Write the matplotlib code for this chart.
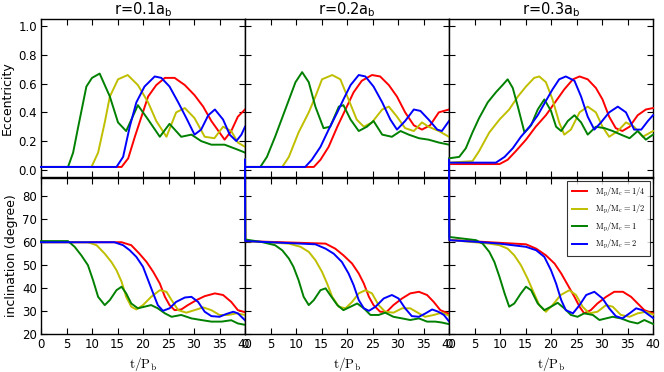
import matplotlib
matplotlib.use("Agg")
import matplotlib.pyplot as plt

# ---- data (t in units of P_b) ----
# r = 0.1 a_b, eccentricity
e1_red_t = [0, 15.8, 17.1, 18.4, 19.7, 21, 22.6, 24.3, 26.2, 28.2, 30.1, 31.8, 33.4, 35, 36, 37.3, 38.6, 40]
e1_red = [0.02, 0.02, 0.08, 0.23, 0.37, 0.51, 0.59, 0.64, 0.64, 0.59, 0.52, 0.44, 0.34, 0.26, 0.21, 0.27, 0.37, 0.42]
e1_yel_t = [0, 9.9, 11.2, 12.5, 13.5, 15.1, 17, 19, 21, 22.6, 24.6, 26.5, 28.2, 30.1, 32.1, 34, 35.7, 37.3, 38.6, 40]
e1_yel = [0.02, 0.02, 0.12, 0.33, 0.51, 0.63, 0.66, 0.59, 0.47, 0.34, 0.23, 0.40, 0.43, 0.36, 0.23, 0.22, 0.30, 0.27, 0.19, 0.16]
e1_grn_t = [0, 5.3, 6.3, 7.3, 8.9, 10, 11.5, 13.5, 15.1, 16.7, 19, 21, 23.3, 25.2, 27.5, 29.5, 31.4, 33.4, 36, 38.6, 40]
e1_grn = [0.02, 0.02, 0.12, 0.30, 0.58, 0.64, 0.67, 0.51, 0.33, 0.27, 0.45, 0.35, 0.23, 0.32, 0.23, 0.245, 0.2, 0.175, 0.175, 0.14, 0.12]
e1_blu_t = [0, 14.8, 16.1, 17.4, 18.7, 20.3, 22.3, 23.6, 25.2, 26.9, 28.5, 30.1, 31.4, 32.8, 34.1, 35.7, 37, 38.3, 39.3, 40]
e1_blu = [0.02, 0.02, 0.09, 0.30, 0.47, 0.58, 0.65, 0.64, 0.58, 0.47, 0.36, 0.245, 0.28, 0.38, 0.42, 0.35, 0.245, 0.20, 0.245, 0.30]

# r = 0.2 a_b, eccentricity
e2_red_t = [0, 13.5, 14.8, 16.4, 18.1, 19.7, 21.3, 22.9, 24.9, 26.5, 28.2, 29.8, 31.4, 33.1, 34.7, 36.3, 38, 40]
e2_red = [0.02, 0.02, 0.07, 0.16, 0.30, 0.42, 0.54, 0.62, 0.66, 0.65, 0.59, 0.51, 0.40, 0.31, 0.28, 0.31, 0.40, 0.42]
e2_yel_t = [0, 7.3, 8.6, 10.5, 12.5, 13.8, 15.1, 17.1, 18.7, 20.3, 21.9, 23.3, 24.9, 26.9, 28.2, 29.8, 31.4, 33.1, 34.7, 36, 38, 40]
e2_yel = [0.02, 0.02, 0.09, 0.26, 0.40, 0.51, 0.63, 0.66, 0.63, 0.49, 0.35, 0.30, 0.33, 0.42, 0.44, 0.37, 0.29, 0.27, 0.33, 0.30, 0.27, 0.23]
e2_grn_t = [0, 3, 4.3, 5.9, 7.9, 9.9, 11.2, 12.5, 13.8, 15.4, 16.7, 18.4, 19.3, 20.7, 22.3, 23.9, 25.2, 26.9, 28.8, 30.5, 32.1, 34.1, 36, 38, 40]
e2_grn = [0.02, 0.02, 0.09, 0.23, 0.42, 0.61, 0.68, 0.61, 0.44, 0.29, 0.30, 0.44, 0.45, 0.35, 0.27, 0.30, 0.34, 0.245, 0.23, 0.27, 0.245, 0.22, 0.21, 0.19, 0.175]
e2_blu_t = [0, 11.8, 13.1, 14.8, 16.4, 18.1, 19.3, 20.7, 22.3, 23.6, 25.2, 26.9, 28.5, 29.8, 31.4, 33.1, 34.4, 36, 37.7, 38.6, 40]
e2_blu = [0.02, 0.02, 0.07, 0.16, 0.28, 0.40, 0.49, 0.59, 0.66, 0.65, 0.58, 0.47, 0.35, 0.28, 0.34, 0.42, 0.41, 0.35, 0.28, 0.27, 0.34]

# r = 0.3 a_b, eccentricity
e3_red_t = [0, 9.9, 11.5, 13.1, 15.1, 17, 19, 21, 22.6, 24.3, 25.6, 27.2, 28.8, 30.1, 31.4, 32.7, 34, 35.4, 37, 38.6, 40]
e3_red = [0.04, 0.04, 0.07, 0.13, 0.21, 0.30, 0.38, 0.48, 0.56, 0.63, 0.65, 0.63, 0.57, 0.49, 0.37, 0.29, 0.27, 0.30, 0.38, 0.42, 0.43]
e3_yel_t = [0, 4.6, 5.9, 7.9, 9.9, 11.8, 13.5, 15.1, 16.7, 17.7, 19, 20.3, 21.6, 22.6, 23.9, 25.6, 27.2, 28.8, 30.1, 31.4, 33.1, 34.7, 36.3, 38, 40]
e3_yel = [0.05, 0.06, 0.13, 0.26, 0.35, 0.42, 0.51, 0.58, 0.64, 0.65, 0.61, 0.49, 0.33, 0.245, 0.28, 0.40, 0.44, 0.40, 0.30, 0.23, 0.27, 0.33, 0.30, 0.23, 0.27]
e3_grn_t = [0, 2, 3.3, 4.6, 5.9, 7.6, 9.2, 10.5, 11.5, 12.5, 13.5, 14.8, 16.1, 17.4, 18.7, 20, 21, 22, 23.3, 24.6, 25.9, 27.2, 28.8, 30.5, 32.1, 33.7, 35.4, 37, 38.6, 40]
e3_grn = [0.08, 0.09, 0.15, 0.26, 0.36, 0.47, 0.54, 0.59, 0.63, 0.57, 0.44, 0.26, 0.31, 0.42, 0.49, 0.41, 0.30, 0.27, 0.34, 0.38, 0.33, 0.245, 0.30, 0.29, 0.27, 0.245, 0.22, 0.27, 0.21, 0.245]
e3_blu_t = [0, 9.2, 10.9, 12.5, 14.1, 15.8, 17.4, 19, 20.3, 21.6, 22.9, 24.6, 25.9, 27.2, 28.5, 29.8, 31.4, 33.1, 34.7, 36.3, 37.7, 39, 40]
e3_blu = [0.05, 0.05, 0.09, 0.15, 0.23, 0.30, 0.38, 0.48, 0.56, 0.63, 0.65, 0.62, 0.51, 0.37, 0.28, 0.33, 0.40, 0.44, 0.40, 0.28, 0.28, 0.34, 0.38]

# r = 0.1 a_b, inclination (degree)
i1_red_t = [0, 15.8, 17.7, 19.3, 20.7, 22, 23.3, 24.3, 25.2, 26.2, 27.5, 28.8, 30.5, 32.1, 34.1, 35.7, 37.3, 38.6, 40]
i1_red = [60, 60, 58.7, 55, 51.4, 47.1, 42, 36.2, 32.6, 30.4, 30.7, 32.6, 34.8, 36.5, 37.7, 37, 34, 30.4, 29.5]
i1_yel_t = [0, 9.2, 10.9, 12.5, 13.8, 14.8, 15.8, 16.7, 17.7, 18.7, 20, 21.6, 23.3, 24.6, 25.6, 26.9, 28.5, 30.1, 31.8, 33.4, 35, 36.7, 38.3, 40]
i1_yel = [60, 60, 58.7, 55, 51.4, 47.8, 42.8, 36.2, 31.9, 30.7, 32.6, 36.2, 39.1, 38.4, 34.8, 30.4, 29.3, 30.4, 31.6, 30.4, 28.3, 28.3, 29, 28.3]
i1_grn_t = [0, 5.3, 6.6, 7.9, 9.2, 10.2, 11.2, 12.5, 13.5, 14.8, 15.8, 16.7, 17.7, 19, 20.3, 21.6, 22.9, 24.3, 25.6, 27.5, 29.5, 31.4, 33.4, 35.4, 37.3, 38.6, 40]
i1_grn = [60.5, 60.5, 58, 54.3, 50, 43.5, 36.2, 32.6, 34.8, 39.1, 40.6, 37.7, 33.3, 31.2, 31.9, 32.6, 31.2, 29, 27.5, 28.3, 26.8, 26.1, 25.4, 25.4, 26, 24.6, 24]
i1_blu_t = [0, 14.4, 16.1, 17.4, 18.7, 20, 21, 22, 22.9, 23.9, 25.2, 26.5, 28.2, 29.5, 30.8, 32.1, 33.4, 35, 36.3, 37.7, 38.6, 40]
i1_blu = [60, 60, 58.7, 56.5, 53.6, 49.3, 43.5, 37.7, 32.6, 30.1, 31.2, 34, 35.9, 36.2, 34, 29.7, 27.8, 27.5, 28.7, 29.7, 29, 26]

# r = 0.2 a_b, inclination (degree)
i2_red_t = [0, 0.05, 15.8, 17.7, 19.3, 21, 22.3, 23.3, 24.3, 25.2, 26.5, 27.8, 29.1, 30.8, 32.4, 34.1, 35.7, 37, 38.3, 40]
i2_red = [96, 60.5, 59.4, 57.2, 54.3, 50.7, 46.4, 42, 36.2, 32.6, 29.7, 29.7, 32.6, 35.5, 37.7, 38.4, 37, 34, 30.4, 28.8]
i2_yel_t = [0, 0.05, 8.6, 10.9, 12.5, 13.8, 15.1, 16.1, 17.1, 18.4, 19.7, 21, 22.3, 23.6, 24.9, 26.2, 27.5, 29.1, 30.8, 32.4, 34.1, 35.3, 37, 38.6, 40]
i2_yel = [96, 60.5, 59.4, 58, 55.8, 52.2, 47.1, 42, 36.2, 31.9, 31.2, 34, 37.7, 39.1, 37.7, 32.6, 29.7, 29.3, 31.2, 31.2, 29, 27.5, 28.3, 29.3, 28]
i2_grn_t = [0, 0.05, 3.3, 5.9, 7.3, 8.6, 9.5, 10.5, 11.5, 12.5, 13.5, 14.8, 15.8, 16.7, 18.1, 19.3, 20.7, 22, 23.3, 24.6, 26.2, 27.5, 29.1, 30.8, 32.4, 34.1, 35.7, 37.3, 38.6, 40]
i2_grn = [96, 61.2, 60.1, 58.7, 56.5, 52.9, 49.3, 43.5, 36.2, 32.6, 34.8, 39.1, 39.9, 37, 32.6, 30.4, 31.9, 33.3, 31.2, 28.3, 28.3, 29.3, 27.5, 26.8, 26.1, 26.8, 25.4, 25.4, 25, 24.3]
i2_blu_t = [0, 0.05, 13.8, 15.8, 17.4, 19, 20.3, 21.3, 22.3, 23.3, 24.3, 25.6, 27.2, 28.8, 30.1, 31.4, 32.7, 34.1, 35.4, 36.7, 37.9, 39, 40]
i2_blu = [96, 60.5, 59.1, 57.2, 55, 51.4, 46.4, 41.3, 34.8, 31.2, 30.1, 31.9, 35.5, 37, 35.5, 31.2, 27.8, 27.5, 29, 30.7, 29.7, 28.3, 25.5]

# r = 0.3 a_b, inclination (degree)
i3_red_t = [0, 0.05, 15.1, 17.1, 19, 20.7, 22, 23.3, 24.6, 25.6, 26.5, 27.8, 29.1, 30.8, 32.4, 34.1, 35.7, 37, 38.3, 40]
i3_red = [96, 61, 59.1, 57.2, 54.3, 50.7, 46.4, 41.3, 36.2, 31.9, 29, 30.4, 33.3, 36.2, 38.4, 38.4, 36.2, 33.3, 30.4, 29]
i3_yel_t = [0, 0.05, 7.9, 9.9, 11.5, 12.8, 14.1, 15.4, 16.4, 17.7, 19, 20.3, 21.9, 23.6, 24.9, 26.2, 27.5, 29.1, 30.8, 32.1, 33.7, 35.4, 37, 38.6, 40]
i3_yel = [96, 61, 59.4, 58.7, 57.2, 54.3, 50, 44.2, 39.1, 32.6, 29.7, 32.6, 37, 39.1, 37, 31.9, 29, 29.7, 32.6, 31.9, 28.3, 27.5, 29, 29.7, 28.5]
i3_grn_t = [0, 0.05, 5.3, 6.6, 7.9, 8.9, 9.9, 10.9, 11.8, 12.8, 14.1, 15.1, 16.1, 17.4, 18.7, 20, 21.3, 22.6, 23.9, 25.2, 26.5, 28.2, 29.5, 30.8, 32.1, 33.7, 35.4, 37, 38.3, 40]
i3_grn = [96, 62.3, 60.9, 59.4, 55.8, 51.4, 44.9, 37.7, 31.9, 33.3, 37.7, 40.6, 39.1, 33.3, 30.4, 31.9, 33.6, 31.2, 28.3, 27.5, 29, 28.3, 26.1, 26.8, 27.5, 26.8, 25.4, 24.6, 26.1, 24.4]
i3_blu_t = [0, 0.05, 5.9, 9.9, 12.5, 15.1, 17.1, 18.7, 20, 21, 22, 22.9, 24.3, 25.6, 26.9, 28.5, 30.1, 31.4, 32.7, 34, 35.4, 36.7, 37.9, 40]
i3_blu = [96, 60.9, 60.1, 59.4, 58.7, 58, 56.5, 53.6, 47.8, 42, 34.8, 30.4, 29, 32.6, 37, 38.4, 35.5, 31.2, 27.8, 26.8, 29, 31.2, 30.4, 27]

titles = [r"r=0.1a$_\mathrm{b}$", r"r=0.2a$_\mathrm{b}$", r"r=0.3a$_\mathrm{b}$"]
labels = [r"$\mathrm{M_p/M_c=1/4}$", r"$\mathrm{M_p/M_c=1/2}$",
          r"$\mathrm{M_p/M_c=1}$", r"$\mathrm{M_p/M_c=2}$"]
colors = ["r", "y", "g", "b"]

ecc = [
    [(e1_red_t, e1_red), (e1_yel_t, e1_yel), (e1_grn_t, e1_grn), (e1_blu_t, e1_blu)],
    [(e2_red_t, e2_red), (e2_yel_t, e2_yel), (e2_grn_t, e2_grn), (e2_blu_t, e2_blu)],
    [(e3_red_t, e3_red), (e3_yel_t, e3_yel), (e3_grn_t, e3_grn), (e3_blu_t, e3_blu)],
]
inc = [
    [(i1_red_t, i1_red), (i1_yel_t, i1_yel), (i1_grn_t, i1_grn), (i1_blu_t, i1_blu)],
    [(i2_red_t, i2_red), (i2_yel_t, i2_yel), (i2_grn_t, i2_grn), (i2_blu_t, i2_blu)],
    [(i3_red_t, i3_red), (i3_yel_t, i3_yel), (i3_grn_t, i3_grn), (i3_blu_t, i3_blu)],
]

plt.rcParams['font.size'] = 8.5
plt.rcParams['xtick.direction'] = 'in'
plt.rcParams['ytick.direction'] = 'in'
plt.rcParams['xtick.top'] = True
plt.rcParams['ytick.right'] = True
plt.rcParams['xtick.major.size'] = 4.5
plt.rcParams['ytick.major.size'] = 4.5
plt.rcParams['xtick.major.pad'] = 3
plt.rcParams['ytick.major.pad'] = 3
plt.rcParams['axes.linewidth'] = 1.0

fig = plt.figure(figsize=(6.64, 3.72), dpi=100)

W, H = 664.0, 372.0
lefts = [41, 245, 449]
width = 204
top_box = (19, 177)
bot_box = (178, 334)

def box(x0, y0, y1):
    return [x0 / W, 1 - y1 / H, width / W, (y1 - y0) / H]

top_axes = [fig.add_axes(box(x, *top_box)) for x in lefts]
bot_axes = [fig.add_axes(box(x, *bot_box)) for x in lefts]

for k, ax in enumerate(top_axes):
    for (t, y), c in zip(ecc[k], colors):
        ax.plot(t, y, color=c, lw=1.4, clip_on=False, zorder=3)
    ax.set_xlim(0, 40)
    ax.set_ylim(-0.05, 1.05)
    ax.set_xticks(range(0, 41, 5))
    ax.set_yticks([0.0, 0.2, 0.4, 0.6, 0.8, 1.0])
    ax.set_xticklabels([])
    if k > 0:
        ax.set_yticklabels([])
    ax.set_title(titles[k], fontsize=10.5, pad=2)
top_axes[0].set_ylabel("Eccentricity", fontsize=9, labelpad=3)

for k, ax in enumerate(bot_axes):
    for (t, y), c, lab in zip(inc[k], colors, labels):
        ax.plot(t, y, color=c, lw=1.4, clip_on=False, zorder=3, label=lab)
    ax.set_xlim(0, 40)
    ax.set_ylim(20, 88)
    ax.set_xticks(range(0, 41, 5))
    ax.set_yticks(range(20, 81, 10))
    if k > 0:
        ax.set_yticklabels([])
    ax.set_xlabel(r"$\mathrm{t/P_b}$", fontsize=9.5, math_fontfamily='cm', labelpad=3)
bot_axes[0].set_ylabel("inclination (degree)", fontsize=9, labelpad=3)

leg = bot_axes[2].legend(loc="upper right", fancybox=False,
                         handlelength=1.8, handletextpad=1.0,
                         borderaxespad=0.4, labelspacing=0.55, borderpad=0.5,
                         prop={'size': 6, 'math_fontfamily': 'cm'})
leg.get_frame().set_edgecolor('black')
leg.get_frame().set_linewidth(0.8)

fig.savefig("out.png", dpi=100)
